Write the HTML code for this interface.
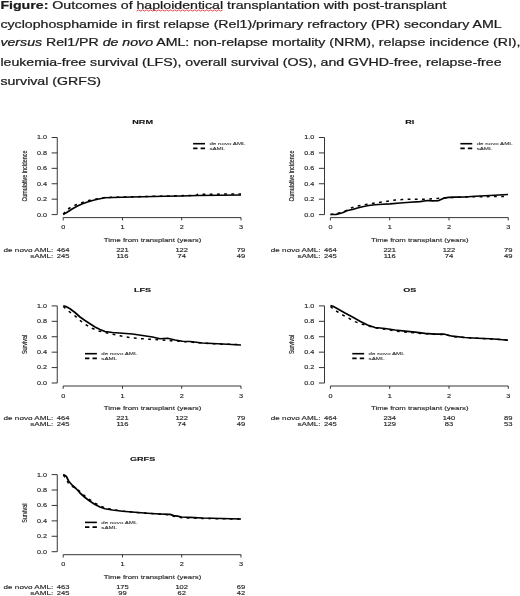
<!DOCTYPE html>
<html><head><meta charset="utf-8"><title>Figure</title>
<style>
html,body{margin:0;padding:0;background:#fff;}
body{width:520px;height:596px;overflow:hidden;position:relative;font-family:"Liberation Sans",sans-serif;}
.cap{position:absolute;left:0.4px;top:-3.9px;-webkit-text-stroke:0.3px #1c1c1c;width:560px;font-size:14.16px;line-height:23.69px;color:#1c1c1c;white-space:nowrap;transform:scaleY(0.8);transform-origin:0 0;}
svg{position:absolute;left:0;top:0;}
.wrap{position:absolute;left:0;top:0;width:520px;height:596px;filter:blur(0.5px);}
svg text{font-family:"Liberation Sans",sans-serif;stroke:#2a2a2a;stroke-width:0.2px;}
</style></head>
<body>
<div class="wrap">
<div class="cap"><b>Figure:</b> Outcomes of haploidentical transplantation with post-transplant<br>cyclophosphamide in first relapse (Rel1)/primary refractory (PR) secondary AML<br><i>versus</i> Rel1/PR <i>de novo</i> AML: non-relapse mortality (NRM), relapse incidence (RI),<br>leukemia-free survival (LFS), overall survival (OS), and GVHD-free, relapse-free<br>survival (GRFS)</div>
<svg width="520" height="596" viewBox="0 0 520 596">
<path d="M136.7,11.0 L138.7,9.9 L140.7,11.1 L142.7,9.9 L144.7,11.1 L146.7,9.9 L148.7,11.1 L150.7,9.9 L152.7,11.1 L154.7,9.9 L156.7,11.1 L158.7,9.9 L160.7,11.1 L162.7,9.9 L164.7,11.1 L166.7,9.9 L168.7,11.1 L170.7,9.9 L172.7,11.1 L174.7,9.9 L176.7,11.1 L178.7,9.9 L180.7,11.1 L182.7,9.9 L184.7,11.1 L186.7,9.9 L188.7,11.1 L190.7,9.9 L192.7,11.1 L194.7,9.9 L196.7,11.1 L198.7,9.9 L200.7,11.1 L202.7,9.9 L204.7,11.1 L206.7,9.9 L208.7,11.1 L210.7,9.9 L212.7,11.1 L214.7,9.9 L216.7,11.1 L218.7,9.9 L220.7,11.1 L222.3,9.9" fill="none" stroke="#e0393a" stroke-width="1.0" stroke-linejoin="round" opacity="0.9"/>
<g transform="translate(0.00,0.00)">
<path d="M57.25,137.5 V214.6" stroke="#2b2b2b" stroke-width="0.95" fill="none"/>
<path d="M51.65,214.60 H57.25" stroke="#2b2b2b" stroke-width="0.95" fill="none"/>
<text transform="translate(42.00,216.50) scale(1,0.7)" font-size="7.2" text-anchor="middle" fill="#2a2a2a">0.0</text>
<path d="M51.65,199.18 H57.25" stroke="#2b2b2b" stroke-width="0.95" fill="none"/>
<text transform="translate(42.00,201.08) scale(1,0.7)" font-size="7.2" text-anchor="middle" fill="#2a2a2a">0.2</text>
<path d="M51.65,183.76 H57.25" stroke="#2b2b2b" stroke-width="0.95" fill="none"/>
<text transform="translate(42.00,185.66) scale(1,0.7)" font-size="7.2" text-anchor="middle" fill="#2a2a2a">0.4</text>
<path d="M51.65,168.34 H57.25" stroke="#2b2b2b" stroke-width="0.95" fill="none"/>
<text transform="translate(42.00,170.24) scale(1,0.7)" font-size="7.2" text-anchor="middle" fill="#2a2a2a">0.6</text>
<path d="M51.65,152.92 H57.25" stroke="#2b2b2b" stroke-width="0.95" fill="none"/>
<text transform="translate(42.00,154.82) scale(1,0.7)" font-size="7.2" text-anchor="middle" fill="#2a2a2a">0.8</text>
<path d="M51.65,137.50 H57.25" stroke="#2b2b2b" stroke-width="0.95" fill="none"/>
<text transform="translate(42.00,139.40) scale(1,0.7)" font-size="7.2" text-anchor="middle" fill="#2a2a2a">1.0</text>
<path d="M63.2,217.6 H241.0" stroke="#2b2b2b" stroke-width="0.95" fill="none"/>
<path d="M63.20,217.6 v2.8" stroke="#2b2b2b" stroke-width="0.95" fill="none"/>
<text transform="translate(63.20,229.20) scale(1,0.7)" font-size="7.3" text-anchor="middle" fill="#2a2a2a">0</text>
<path d="M122.47,217.6 v2.8" stroke="#2b2b2b" stroke-width="0.95" fill="none"/>
<text transform="translate(122.47,229.20) scale(1,0.7)" font-size="7.3" text-anchor="middle" fill="#2a2a2a">1</text>
<path d="M181.73,217.6 v2.8" stroke="#2b2b2b" stroke-width="0.95" fill="none"/>
<text transform="translate(181.73,229.20) scale(1,0.7)" font-size="7.3" text-anchor="middle" fill="#2a2a2a">2</text>
<path d="M241.00,217.6 v2.8" stroke="#2b2b2b" stroke-width="0.95" fill="none"/>
<text transform="translate(241.00,229.20) scale(1,0.7)" font-size="7.3" text-anchor="middle" fill="#2a2a2a">3</text>
<text transform="translate(142.60,123.60) scale(1,0.66)" font-size="9.1" text-anchor="middle" font-weight="bold" fill="#111">NRM</text>
<text transform="translate(152.50,241.90) scale(1,0.7)" font-size="7.8" text-anchor="middle" fill="#2a2a2a">Time from transplant (years)</text>
<text transform="translate(26.60,176.05) scale(1,0.7) rotate(-90)" font-size="7.7" text-anchor="middle" fill="#2a2a2a">Cumulative incidence</text>
<text transform="translate(53.20,251.70) scale(1,0.7)" font-size="8.12" text-anchor="end" fill="#2a2a2a">de novo AML:</text>
<text transform="translate(63.20,251.70) scale(1,0.7)" font-size="7.6" text-anchor="middle" fill="#2a2a2a">464</text>
<text transform="translate(122.47,251.70) scale(1,0.7)" font-size="7.6" text-anchor="middle" fill="#2a2a2a">221</text>
<text transform="translate(181.73,251.70) scale(1,0.7)" font-size="7.6" text-anchor="middle" fill="#2a2a2a">122</text>
<text transform="translate(241.00,251.70) scale(1,0.7)" font-size="7.6" text-anchor="middle" fill="#2a2a2a">79</text>
<text transform="translate(53.20,257.90) scale(1,0.7)" font-size="8.12" text-anchor="end" fill="#2a2a2a">sAML:</text>
<text transform="translate(63.20,257.90) scale(1,0.7)" font-size="7.6" text-anchor="middle" fill="#2a2a2a">245</text>
<text transform="translate(122.47,257.90) scale(1,0.7)" font-size="7.6" text-anchor="middle" fill="#2a2a2a">116</text>
<text transform="translate(181.73,257.90) scale(1,0.7)" font-size="7.6" text-anchor="middle" fill="#2a2a2a">74</text>
<text transform="translate(241.00,257.90) scale(1,0.7)" font-size="7.6" text-anchor="middle" fill="#2a2a2a">49</text>
<path d="M63.20,214.20 L67.00,209.70 L71.25,207.00 L75.50,205.00 L80.00,203.30 L85.00,201.60 L91.25,199.90 L97.50,198.80 L105.00,197.50 L122.50,197.00 L165.00,196.00 L196.00,195.30 L198.00,194.20 L205.50,194.30 L213.75,194.20 L221.25,194.10 L228.75,194.00 L241.00,193.90" fill="none" stroke="#000" stroke-width="1.5" stroke-linejoin="round" stroke-dasharray="2.8 4.4"/>
<path d="M63.20,214.50 L67.50,212.00 L72.50,208.75 L77.50,206.00 L82.50,203.75 L87.50,202.00 L92.50,200.50 L97.50,199.25 L105.00,197.75 L112.50,197.50 L122.50,197.25 L142.50,196.75 L165.00,196.25 L181.75,196.00 L197.50,195.50 L241.00,195.00" fill="none" stroke="#000" stroke-width="1.7" stroke-linejoin="round"/>
<path d="M193.1,143.7 h11.9" stroke="#000" stroke-width="1.6" fill="none"/>
<path d="M193.1,148.39999999999998 h11.9" stroke="#000" stroke-width="1.6" stroke-dasharray="4.4 3.1" fill="none"/>
<text style="stroke-width:0.12px" transform="translate(209.40,145.40) scale(1,0.7)" font-size="6.2" text-anchor="start" fill="#333">de novo AML</text>
<text style="stroke-width:0.12px" transform="translate(209.40,150.20) scale(1,0.7)" font-size="6.2" text-anchor="start" fill="#333">sAML</text>
</g>
<g transform="translate(267.25,0.00)">
<path d="M57.25,137.5 V214.6" stroke="#2b2b2b" stroke-width="0.95" fill="none"/>
<path d="M51.65,214.60 H57.25" stroke="#2b2b2b" stroke-width="0.95" fill="none"/>
<text transform="translate(42.00,216.50) scale(1,0.7)" font-size="7.2" text-anchor="middle" fill="#2a2a2a">0.0</text>
<path d="M51.65,199.18 H57.25" stroke="#2b2b2b" stroke-width="0.95" fill="none"/>
<text transform="translate(42.00,201.08) scale(1,0.7)" font-size="7.2" text-anchor="middle" fill="#2a2a2a">0.2</text>
<path d="M51.65,183.76 H57.25" stroke="#2b2b2b" stroke-width="0.95" fill="none"/>
<text transform="translate(42.00,185.66) scale(1,0.7)" font-size="7.2" text-anchor="middle" fill="#2a2a2a">0.4</text>
<path d="M51.65,168.34 H57.25" stroke="#2b2b2b" stroke-width="0.95" fill="none"/>
<text transform="translate(42.00,170.24) scale(1,0.7)" font-size="7.2" text-anchor="middle" fill="#2a2a2a">0.6</text>
<path d="M51.65,152.92 H57.25" stroke="#2b2b2b" stroke-width="0.95" fill="none"/>
<text transform="translate(42.00,154.82) scale(1,0.7)" font-size="7.2" text-anchor="middle" fill="#2a2a2a">0.8</text>
<path d="M51.65,137.50 H57.25" stroke="#2b2b2b" stroke-width="0.95" fill="none"/>
<text transform="translate(42.00,139.40) scale(1,0.7)" font-size="7.2" text-anchor="middle" fill="#2a2a2a">1.0</text>
<path d="M63.2,217.6 H241.0" stroke="#2b2b2b" stroke-width="0.95" fill="none"/>
<path d="M63.20,217.6 v2.8" stroke="#2b2b2b" stroke-width="0.95" fill="none"/>
<text transform="translate(63.20,229.20) scale(1,0.7)" font-size="7.3" text-anchor="middle" fill="#2a2a2a">0</text>
<path d="M122.47,217.6 v2.8" stroke="#2b2b2b" stroke-width="0.95" fill="none"/>
<text transform="translate(122.47,229.20) scale(1,0.7)" font-size="7.3" text-anchor="middle" fill="#2a2a2a">1</text>
<path d="M181.73,217.6 v2.8" stroke="#2b2b2b" stroke-width="0.95" fill="none"/>
<text transform="translate(181.73,229.20) scale(1,0.7)" font-size="7.3" text-anchor="middle" fill="#2a2a2a">2</text>
<path d="M241.00,217.6 v2.8" stroke="#2b2b2b" stroke-width="0.95" fill="none"/>
<text transform="translate(241.00,229.20) scale(1,0.7)" font-size="7.3" text-anchor="middle" fill="#2a2a2a">3</text>
<text transform="translate(142.60,123.60) scale(1,0.66)" font-size="9.1" text-anchor="middle" font-weight="bold" fill="#111">RI</text>
<text transform="translate(152.50,241.90) scale(1,0.7)" font-size="7.8" text-anchor="middle" fill="#2a2a2a">Time from transplant (years)</text>
<text transform="translate(26.60,176.05) scale(1,0.7) rotate(-90)" font-size="7.7" text-anchor="middle" fill="#2a2a2a">Cumulative incidence</text>
<text transform="translate(53.20,251.70) scale(1,0.7)" font-size="8.12" text-anchor="end" fill="#2a2a2a">de novo AML:</text>
<text transform="translate(63.20,251.70) scale(1,0.7)" font-size="7.6" text-anchor="middle" fill="#2a2a2a">464</text>
<text transform="translate(122.47,251.70) scale(1,0.7)" font-size="7.6" text-anchor="middle" fill="#2a2a2a">221</text>
<text transform="translate(181.73,251.70) scale(1,0.7)" font-size="7.6" text-anchor="middle" fill="#2a2a2a">122</text>
<text transform="translate(241.00,251.70) scale(1,0.7)" font-size="7.6" text-anchor="middle" fill="#2a2a2a">79</text>
<text transform="translate(53.20,257.90) scale(1,0.7)" font-size="8.12" text-anchor="end" fill="#2a2a2a">sAML:</text>
<text transform="translate(63.20,257.90) scale(1,0.7)" font-size="7.6" text-anchor="middle" fill="#2a2a2a">245</text>
<text transform="translate(122.47,257.90) scale(1,0.7)" font-size="7.6" text-anchor="middle" fill="#2a2a2a">116</text>
<text transform="translate(181.73,257.90) scale(1,0.7)" font-size="7.6" text-anchor="middle" fill="#2a2a2a">74</text>
<text transform="translate(241.00,257.90) scale(1,0.7)" font-size="7.6" text-anchor="middle" fill="#2a2a2a">49</text>
<path d="M63.25,214.40 L75.25,212.50 L79.75,210.00 L84.00,208.00 L89.00,206.25 L95.25,205.00 L101.50,204.00 L107.75,203.00 L114.75,202.00 L121.50,201.00 L128.25,200.00 L135.25,199.50 L142.00,199.25 L155.75,199.20 L162.75,199.00 L169.75,198.50 L176.50,198.00 L187.75,197.30 L202.75,196.90 L210.75,196.70 L222.75,196.60 L240.75,196.40" fill="none" stroke="#000" stroke-width="1.5" stroke-linejoin="round" stroke-dasharray="2.8 4.4"/>
<path d="M63.25,214.50 L69.00,214.30 L75.25,212.75 L80.25,210.50 L85.25,209.50 L90.25,208.00 L95.25,206.75 L101.50,205.50 L107.75,204.75 L115.25,204.25 L122.75,203.90 L132.75,203.00 L142.75,202.25 L152.75,201.60 L160.25,200.50 L165.25,200.90 L171.50,200.60 L176.50,198.20 L181.50,197.40 L187.75,197.20 L197.75,197.00 L207.75,196.25 L222.75,195.50 L240.75,194.50" fill="none" stroke="#000" stroke-width="1.7" stroke-linejoin="round"/>
<path d="M193.1,143.7 h11.9" stroke="#000" stroke-width="1.6" fill="none"/>
<path d="M193.1,148.39999999999998 h11.9" stroke="#000" stroke-width="1.6" stroke-dasharray="4.4 3.1" fill="none"/>
<text style="stroke-width:0.12px" transform="translate(209.40,145.40) scale(1,0.7)" font-size="6.2" text-anchor="start" fill="#333">de novo AML</text>
<text style="stroke-width:0.12px" transform="translate(209.40,150.20) scale(1,0.7)" font-size="6.2" text-anchor="start" fill="#333">sAML</text>
</g>
<g transform="translate(0.00,168.40)">
<path d="M57.25,137.5 V214.6" stroke="#2b2b2b" stroke-width="0.95" fill="none"/>
<path d="M51.65,214.60 H57.25" stroke="#2b2b2b" stroke-width="0.95" fill="none"/>
<text transform="translate(42.00,216.50) scale(1,0.7)" font-size="7.2" text-anchor="middle" fill="#2a2a2a">0.0</text>
<path d="M51.65,199.18 H57.25" stroke="#2b2b2b" stroke-width="0.95" fill="none"/>
<text transform="translate(42.00,201.08) scale(1,0.7)" font-size="7.2" text-anchor="middle" fill="#2a2a2a">0.2</text>
<path d="M51.65,183.76 H57.25" stroke="#2b2b2b" stroke-width="0.95" fill="none"/>
<text transform="translate(42.00,185.66) scale(1,0.7)" font-size="7.2" text-anchor="middle" fill="#2a2a2a">0.4</text>
<path d="M51.65,168.34 H57.25" stroke="#2b2b2b" stroke-width="0.95" fill="none"/>
<text transform="translate(42.00,170.24) scale(1,0.7)" font-size="7.2" text-anchor="middle" fill="#2a2a2a">0.6</text>
<path d="M51.65,152.92 H57.25" stroke="#2b2b2b" stroke-width="0.95" fill="none"/>
<text transform="translate(42.00,154.82) scale(1,0.7)" font-size="7.2" text-anchor="middle" fill="#2a2a2a">0.8</text>
<path d="M51.65,137.50 H57.25" stroke="#2b2b2b" stroke-width="0.95" fill="none"/>
<text transform="translate(42.00,139.40) scale(1,0.7)" font-size="7.2" text-anchor="middle" fill="#2a2a2a">1.0</text>
<path d="M63.2,217.6 H241.0" stroke="#2b2b2b" stroke-width="0.95" fill="none"/>
<path d="M63.20,217.6 v2.8" stroke="#2b2b2b" stroke-width="0.95" fill="none"/>
<text transform="translate(63.20,229.20) scale(1,0.7)" font-size="7.3" text-anchor="middle" fill="#2a2a2a">0</text>
<path d="M122.47,217.6 v2.8" stroke="#2b2b2b" stroke-width="0.95" fill="none"/>
<text transform="translate(122.47,229.20) scale(1,0.7)" font-size="7.3" text-anchor="middle" fill="#2a2a2a">1</text>
<path d="M181.73,217.6 v2.8" stroke="#2b2b2b" stroke-width="0.95" fill="none"/>
<text transform="translate(181.73,229.20) scale(1,0.7)" font-size="7.3" text-anchor="middle" fill="#2a2a2a">2</text>
<path d="M241.00,217.6 v2.8" stroke="#2b2b2b" stroke-width="0.95" fill="none"/>
<text transform="translate(241.00,229.20) scale(1,0.7)" font-size="7.3" text-anchor="middle" fill="#2a2a2a">3</text>
<text transform="translate(142.60,123.60) scale(1,0.66)" font-size="9.1" text-anchor="middle" font-weight="bold" fill="#111">LFS</text>
<text transform="translate(152.50,241.90) scale(1,0.7)" font-size="7.8" text-anchor="middle" fill="#2a2a2a">Time from transplant (years)</text>
<text transform="translate(26.60,176.05) scale(1,0.7) rotate(-90)" font-size="7.7" text-anchor="middle" fill="#2a2a2a">Survival</text>
<text transform="translate(53.20,251.70) scale(1,0.7)" font-size="8.12" text-anchor="end" fill="#2a2a2a">de novo AML:</text>
<text transform="translate(63.20,251.70) scale(1,0.7)" font-size="7.6" text-anchor="middle" fill="#2a2a2a">464</text>
<text transform="translate(122.47,251.70) scale(1,0.7)" font-size="7.6" text-anchor="middle" fill="#2a2a2a">221</text>
<text transform="translate(181.73,251.70) scale(1,0.7)" font-size="7.6" text-anchor="middle" fill="#2a2a2a">122</text>
<text transform="translate(241.00,251.70) scale(1,0.7)" font-size="7.6" text-anchor="middle" fill="#2a2a2a">79</text>
<text transform="translate(53.20,257.90) scale(1,0.7)" font-size="8.12" text-anchor="end" fill="#2a2a2a">sAML:</text>
<text transform="translate(63.20,257.90) scale(1,0.7)" font-size="7.6" text-anchor="middle" fill="#2a2a2a">245</text>
<text transform="translate(122.47,257.90) scale(1,0.7)" font-size="7.6" text-anchor="middle" fill="#2a2a2a">116</text>
<text transform="translate(181.73,257.90) scale(1,0.7)" font-size="7.6" text-anchor="middle" fill="#2a2a2a">74</text>
<text transform="translate(241.00,257.90) scale(1,0.7)" font-size="7.6" text-anchor="middle" fill="#2a2a2a">49</text>
<path d="M63.30,138.10 L68.75,142.85 L74.50,147.10 L80.00,151.90 L85.00,155.85 L92.00,159.85 L98.75,162.60 L106.25,164.30 L113.00,165.85 L120.00,167.35 L126.25,168.60 L133.75,169.60 L140.50,170.20 L147.50,170.70 L154.50,171.10 L161.25,171.60 L168.75,172.20 L176.00,172.60 L183.00,173.20 L190.00,173.60 L202.50,174.80 L222.50,175.80 L241.00,176.20" fill="none" stroke="#000" stroke-width="1.5" stroke-linejoin="round" stroke-dasharray="2.8 4.4"/>
<path d="M63.30,137.30 L66.00,138.10 L70.00,140.35 L75.00,144.10 L80.00,148.60 L85.00,152.10 L90.00,155.35 L95.00,158.60 L100.00,161.10 L105.00,163.10 L112.50,164.10 L122.50,164.85 L132.50,165.60 L142.50,167.10 L152.50,168.60 L160.00,170.35 L167.50,169.85 L175.00,171.60 L182.50,172.85 L190.00,173.10 L202.50,174.60 L222.50,175.60 L241.00,176.60" fill="none" stroke="#000" stroke-width="1.7" stroke-linejoin="round"/>
<path d="M85.0,185.3 h11.9" stroke="#000" stroke-width="1.6" fill="none"/>
<path d="M85.0,190.0 h11.9" stroke="#000" stroke-width="1.6" stroke-dasharray="4.4 3.1" fill="none"/>
<text style="stroke-width:0.12px" transform="translate(101.30,187.00) scale(1,0.7)" font-size="6.2" text-anchor="start" fill="#333">de novo AML</text>
<text style="stroke-width:0.12px" transform="translate(101.30,191.80) scale(1,0.7)" font-size="6.2" text-anchor="start" fill="#333">sAML</text>
</g>
<g transform="translate(267.25,168.40)">
<path d="M57.25,137.5 V214.6" stroke="#2b2b2b" stroke-width="0.95" fill="none"/>
<path d="M51.65,214.60 H57.25" stroke="#2b2b2b" stroke-width="0.95" fill="none"/>
<text transform="translate(42.00,216.50) scale(1,0.7)" font-size="7.2" text-anchor="middle" fill="#2a2a2a">0.0</text>
<path d="M51.65,199.18 H57.25" stroke="#2b2b2b" stroke-width="0.95" fill="none"/>
<text transform="translate(42.00,201.08) scale(1,0.7)" font-size="7.2" text-anchor="middle" fill="#2a2a2a">0.2</text>
<path d="M51.65,183.76 H57.25" stroke="#2b2b2b" stroke-width="0.95" fill="none"/>
<text transform="translate(42.00,185.66) scale(1,0.7)" font-size="7.2" text-anchor="middle" fill="#2a2a2a">0.4</text>
<path d="M51.65,168.34 H57.25" stroke="#2b2b2b" stroke-width="0.95" fill="none"/>
<text transform="translate(42.00,170.24) scale(1,0.7)" font-size="7.2" text-anchor="middle" fill="#2a2a2a">0.6</text>
<path d="M51.65,152.92 H57.25" stroke="#2b2b2b" stroke-width="0.95" fill="none"/>
<text transform="translate(42.00,154.82) scale(1,0.7)" font-size="7.2" text-anchor="middle" fill="#2a2a2a">0.8</text>
<path d="M51.65,137.50 H57.25" stroke="#2b2b2b" stroke-width="0.95" fill="none"/>
<text transform="translate(42.00,139.40) scale(1,0.7)" font-size="7.2" text-anchor="middle" fill="#2a2a2a">1.0</text>
<path d="M63.2,217.6 H241.0" stroke="#2b2b2b" stroke-width="0.95" fill="none"/>
<path d="M63.20,217.6 v2.8" stroke="#2b2b2b" stroke-width="0.95" fill="none"/>
<text transform="translate(63.20,229.20) scale(1,0.7)" font-size="7.3" text-anchor="middle" fill="#2a2a2a">0</text>
<path d="M122.47,217.6 v2.8" stroke="#2b2b2b" stroke-width="0.95" fill="none"/>
<text transform="translate(122.47,229.20) scale(1,0.7)" font-size="7.3" text-anchor="middle" fill="#2a2a2a">1</text>
<path d="M181.73,217.6 v2.8" stroke="#2b2b2b" stroke-width="0.95" fill="none"/>
<text transform="translate(181.73,229.20) scale(1,0.7)" font-size="7.3" text-anchor="middle" fill="#2a2a2a">2</text>
<path d="M241.00,217.6 v2.8" stroke="#2b2b2b" stroke-width="0.95" fill="none"/>
<text transform="translate(241.00,229.20) scale(1,0.7)" font-size="7.3" text-anchor="middle" fill="#2a2a2a">3</text>
<text transform="translate(142.60,123.60) scale(1,0.66)" font-size="9.1" text-anchor="middle" font-weight="bold" fill="#111">OS</text>
<text transform="translate(152.50,241.90) scale(1,0.7)" font-size="7.8" text-anchor="middle" fill="#2a2a2a">Time from transplant (years)</text>
<text transform="translate(26.60,176.05) scale(1,0.7) rotate(-90)" font-size="7.7" text-anchor="middle" fill="#2a2a2a">Survival</text>
<text transform="translate(53.20,251.70) scale(1,0.7)" font-size="8.12" text-anchor="end" fill="#2a2a2a">de novo AML:</text>
<text transform="translate(63.20,251.70) scale(1,0.7)" font-size="7.6" text-anchor="middle" fill="#2a2a2a">464</text>
<text transform="translate(122.47,251.70) scale(1,0.7)" font-size="7.6" text-anchor="middle" fill="#2a2a2a">234</text>
<text transform="translate(181.73,251.70) scale(1,0.7)" font-size="7.6" text-anchor="middle" fill="#2a2a2a">140</text>
<text transform="translate(241.00,251.70) scale(1,0.7)" font-size="7.6" text-anchor="middle" fill="#2a2a2a">89</text>
<text transform="translate(53.20,257.90) scale(1,0.7)" font-size="8.12" text-anchor="end" fill="#2a2a2a">sAML:</text>
<text transform="translate(63.20,257.90) scale(1,0.7)" font-size="7.6" text-anchor="middle" fill="#2a2a2a">245</text>
<text transform="translate(122.47,257.90) scale(1,0.7)" font-size="7.6" text-anchor="middle" fill="#2a2a2a">129</text>
<text transform="translate(181.73,257.90) scale(1,0.7)" font-size="7.6" text-anchor="middle" fill="#2a2a2a">83</text>
<text transform="translate(241.00,257.90) scale(1,0.7)" font-size="7.6" text-anchor="middle" fill="#2a2a2a">53</text>
<path d="M63.25,138.10 L67.25,141.60 L73.25,145.35 L80.25,149.20 L87.75,153.20 L94.00,155.60 L100.25,157.20 L107.75,159.50 L117.75,160.80 L127.75,162.60 L137.75,163.60 L147.75,164.50 L157.75,165.40 L167.75,165.90 L177.25,166.10 L185.25,168.10 L197.75,169.30 L222.75,170.50 L240.75,171.60" fill="none" stroke="#000" stroke-width="1.5" stroke-linejoin="round" stroke-dasharray="2.8 4.4"/>
<path d="M63.25,137.20 L65.75,137.90 L70.25,140.35 L77.75,144.60 L85.25,148.60 L92.75,152.85 L100.25,156.60 L107.75,159.10 L117.75,160.10 L127.75,161.60 L137.75,162.70 L147.75,163.70 L157.75,164.90 L167.75,165.70 L177.25,165.80 L185.25,167.80 L197.75,169.10 L210.25,169.85 L222.75,170.35 L232.75,171.10 L240.75,171.85" fill="none" stroke="#000" stroke-width="1.7" stroke-linejoin="round"/>
<path d="M85.0,185.3 h11.9" stroke="#000" stroke-width="1.6" fill="none"/>
<path d="M85.0,190.0 h11.9" stroke="#000" stroke-width="1.6" stroke-dasharray="4.4 3.1" fill="none"/>
<text style="stroke-width:0.12px" transform="translate(101.30,187.00) scale(1,0.7)" font-size="6.2" text-anchor="start" fill="#333">de novo AML</text>
<text style="stroke-width:0.12px" transform="translate(101.30,191.80) scale(1,0.7)" font-size="6.2" text-anchor="start" fill="#333">sAML</text>
</g>
<g transform="translate(0.00,337.10)">
<path d="M57.25,137.5 V214.6" stroke="#2b2b2b" stroke-width="0.95" fill="none"/>
<path d="M51.65,214.60 H57.25" stroke="#2b2b2b" stroke-width="0.95" fill="none"/>
<text transform="translate(42.00,216.50) scale(1,0.7)" font-size="7.2" text-anchor="middle" fill="#2a2a2a">0.0</text>
<path d="M51.65,199.18 H57.25" stroke="#2b2b2b" stroke-width="0.95" fill="none"/>
<text transform="translate(42.00,201.08) scale(1,0.7)" font-size="7.2" text-anchor="middle" fill="#2a2a2a">0.2</text>
<path d="M51.65,183.76 H57.25" stroke="#2b2b2b" stroke-width="0.95" fill="none"/>
<text transform="translate(42.00,185.66) scale(1,0.7)" font-size="7.2" text-anchor="middle" fill="#2a2a2a">0.4</text>
<path d="M51.65,168.34 H57.25" stroke="#2b2b2b" stroke-width="0.95" fill="none"/>
<text transform="translate(42.00,170.24) scale(1,0.7)" font-size="7.2" text-anchor="middle" fill="#2a2a2a">0.6</text>
<path d="M51.65,152.92 H57.25" stroke="#2b2b2b" stroke-width="0.95" fill="none"/>
<text transform="translate(42.00,154.82) scale(1,0.7)" font-size="7.2" text-anchor="middle" fill="#2a2a2a">0.8</text>
<path d="M51.65,137.50 H57.25" stroke="#2b2b2b" stroke-width="0.95" fill="none"/>
<text transform="translate(42.00,139.40) scale(1,0.7)" font-size="7.2" text-anchor="middle" fill="#2a2a2a">1.0</text>
<path d="M63.2,217.6 H241.0" stroke="#2b2b2b" stroke-width="0.95" fill="none"/>
<path d="M63.20,217.6 v2.8" stroke="#2b2b2b" stroke-width="0.95" fill="none"/>
<text transform="translate(63.20,229.20) scale(1,0.7)" font-size="7.3" text-anchor="middle" fill="#2a2a2a">0</text>
<path d="M122.47,217.6 v2.8" stroke="#2b2b2b" stroke-width="0.95" fill="none"/>
<text transform="translate(122.47,229.20) scale(1,0.7)" font-size="7.3" text-anchor="middle" fill="#2a2a2a">1</text>
<path d="M181.73,217.6 v2.8" stroke="#2b2b2b" stroke-width="0.95" fill="none"/>
<text transform="translate(181.73,229.20) scale(1,0.7)" font-size="7.3" text-anchor="middle" fill="#2a2a2a">2</text>
<path d="M241.00,217.6 v2.8" stroke="#2b2b2b" stroke-width="0.95" fill="none"/>
<text transform="translate(241.00,229.20) scale(1,0.7)" font-size="7.3" text-anchor="middle" fill="#2a2a2a">3</text>
<text transform="translate(142.60,123.60) scale(1,0.66)" font-size="9.1" text-anchor="middle" font-weight="bold" fill="#111">GRFS</text>
<text transform="translate(152.50,241.90) scale(1,0.7)" font-size="7.8" text-anchor="middle" fill="#2a2a2a">Time from transplant (years)</text>
<text transform="translate(26.60,176.05) scale(1,0.7) rotate(-90)" font-size="7.7" text-anchor="middle" fill="#2a2a2a">Survival</text>
<text transform="translate(53.20,251.70) scale(1,0.7)" font-size="8.12" text-anchor="end" fill="#2a2a2a">de novo AML:</text>
<text transform="translate(63.20,251.70) scale(1,0.7)" font-size="7.6" text-anchor="middle" fill="#2a2a2a">463</text>
<text transform="translate(122.47,251.70) scale(1,0.7)" font-size="7.6" text-anchor="middle" fill="#2a2a2a">175</text>
<text transform="translate(181.73,251.70) scale(1,0.7)" font-size="7.6" text-anchor="middle" fill="#2a2a2a">102</text>
<text transform="translate(241.00,251.70) scale(1,0.7)" font-size="7.6" text-anchor="middle" fill="#2a2a2a">69</text>
<text transform="translate(53.20,257.90) scale(1,0.7)" font-size="8.12" text-anchor="end" fill="#2a2a2a">sAML:</text>
<text transform="translate(63.20,257.90) scale(1,0.7)" font-size="7.6" text-anchor="middle" fill="#2a2a2a">245</text>
<text transform="translate(122.47,257.90) scale(1,0.7)" font-size="7.6" text-anchor="middle" fill="#2a2a2a">99</text>
<text transform="translate(181.73,257.90) scale(1,0.7)" font-size="7.6" text-anchor="middle" fill="#2a2a2a">62</text>
<text transform="translate(241.00,257.90) scale(1,0.7)" font-size="7.6" text-anchor="middle" fill="#2a2a2a">42</text>
<path d="M63.30,137.90 L66.00,141.40 L69.00,147.40 L72.50,149.40 L76.25,151.40 L80.50,154.90 L85.50,159.40 L90.50,163.10 L95.50,166.40 L100.50,168.90 L105.50,170.90 L112.50,172.50 L122.50,173.90 L135.00,175.20 L160.00,177.10 L170.00,177.70 L173.75,179.20 L181.75,180.60 L190.00,180.90 L202.50,181.30 L241.00,182.00" fill="none" stroke="#000" stroke-width="1.5" stroke-linejoin="round" stroke-dasharray="2.8 4.4"/>
<path d="M63.30,137.30 L66.25,139.15 L68.75,144.15 L72.50,148.40 L76.25,151.65 L80.00,155.90 L85.00,160.40 L90.00,164.15 L95.00,167.40 L100.00,169.90 L105.00,171.65 L112.50,172.90 L122.50,174.15 L135.00,175.15 L147.50,176.15 L160.00,176.90 L170.00,177.30 L173.75,178.50 L177.50,179.10 L181.75,179.90 L190.00,180.20 L202.50,180.90 L241.00,181.90" fill="none" stroke="#000" stroke-width="1.7" stroke-linejoin="round"/>
<path d="M85.0,185.3 h11.9" stroke="#000" stroke-width="1.6" fill="none"/>
<path d="M85.0,190.0 h11.9" stroke="#000" stroke-width="1.6" stroke-dasharray="4.4 3.1" fill="none"/>
<text style="stroke-width:0.12px" transform="translate(101.30,187.00) scale(1,0.7)" font-size="6.2" text-anchor="start" fill="#333">de novo AML</text>
<text style="stroke-width:0.12px" transform="translate(101.30,191.80) scale(1,0.7)" font-size="6.2" text-anchor="start" fill="#333">sAML</text>
</g>
</svg>
</div>
</body></html>
